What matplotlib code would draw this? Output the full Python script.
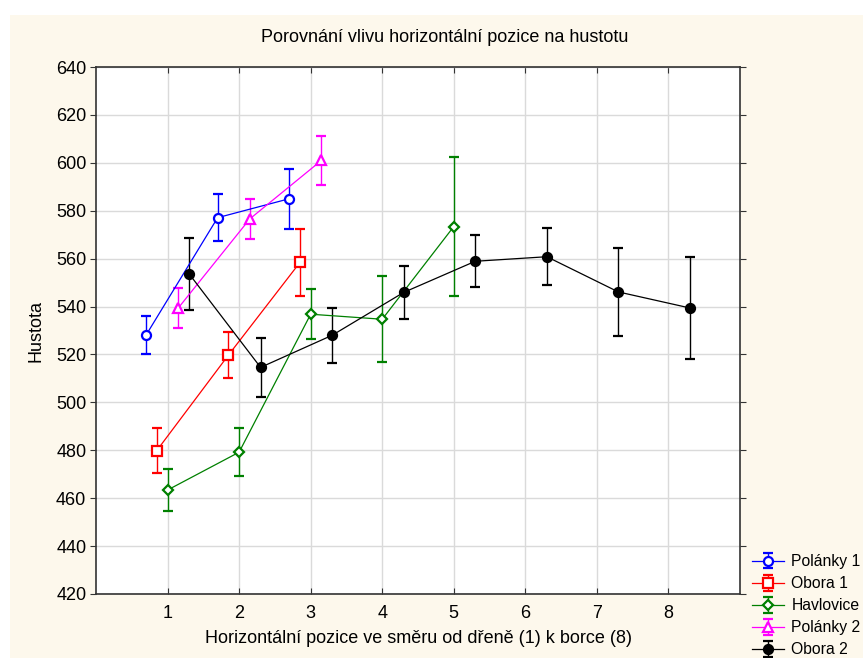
import matplotlib
matplotlib.use("Agg")
import matplotlib.pyplot as plt
from matplotlib.patches import Rectangle

plt.rcParams['font.family'] = ['Liberation Sans', 'DejaVu Sans']

# horizontal positions (1 = pith ... 8 = bark)
positions = [1, 2, 3, 4, 5, 6, 7, 8]

# means and half-width of error bar for each locality
polanky1_mean = [528.1, 577.1, 585.0]
polanky1_err = [8.0, 9.8, 12.6]
obora1_mean = [479.9, 519.7, 558.4]
obora1_err = [9.3, 9.7, 13.8]
havlovice_mean = [463.4, 479.2, 536.8, 534.7, 573.4]
havlovice_err = [8.7, 10.0, 10.4, 18.0, 29.2]
polanky2_mean = [539.4, 576.6, 601.0]
polanky2_err = [8.2, 8.5, 10.3]
obora2_mean = [553.7, 514.6, 528.0, 545.9, 558.9, 560.8, 546.1, 539.4]
obora2_err = [15.0, 12.2, 11.5, 11.0, 10.8, 11.9, 18.2, 21.2]

series = [
    ("Polánky 1", -0.3, polanky1_mean, polanky1_err, "#0000ff", "o", "white"),
    ("Obora 1", -0.15, obora1_mean, obora1_err, "#ff0000", "s", "white"),
    ("Havlovice", 0.0, havlovice_mean, havlovice_err, "#008000", "D", "white"),
    ("Polánky 2", 0.15, polanky2_mean, polanky2_err, "#ff00ff", "^", "white"),
    ("Obora 2", 0.3, obora2_mean, obora2_err, "#000000", "o", "#000000"),
]

fig = plt.figure(figsize=(8.63, 6.58), dpi=100, facecolor="white")
W, H = 863, 658
# beige panel behind everything, leaving thin white strip at top/left
fig.patches.append(Rectangle((10 / W, 0), 1, 1 - 15 / H, transform=fig.transFigure,
                             facecolor="#fdf8ec", edgecolor="none", zorder=-10))

ax = fig.add_axes([96 / W, 1 - 594 / H, (740 - 96) / W, (594 - 67) / H])
ax.set_facecolor("white")

for name, off, mean, err, col, mk, fill in series:
    xs = [p + off for p in positions[:len(mean)]]
    ms = 6.5 if mk != "D" else 5.5
    ax.errorbar(xs, mean, yerr=err, color=col, lw=0.9, elinewidth=1.0,
                capsize=3.5, capthick=1.0, marker=mk, markersize=ms,
                markerfacecolor=fill, markeredgecolor=col, markeredgewidth=1.6,
                label=name, zorder=3)

ax.set_xlim(0, 9)
ax.set_ylim(420, 640)
ax.set_xticks(positions)
ax.set_yticks(range(420, 641, 20))
ax.grid(True, color="#dadada", lw=1.0, zorder=0)
ax.set_axisbelow(True)
for s in ax.spines.values():
    s.set_color("#333333")
    s.set_linewidth(1.2)
ax.tick_params(axis="y", which="both", direction="out", length=4, labelsize=13,
               right=True, colors="#333333", labelcolor="black", pad=3)
ax.tick_params(axis="x", direction="in", length=4, labelsize=13, top=True,
               pad=8, colors="#333333", labelcolor="black")

ax.set_xlabel("Horizontální pozice ve směru od dřeně (1) k borce (8)", fontsize=13, labelpad=6)
ax.set_ylabel("Hustota", fontsize=13, labelpad=8)
fig.text(445 / W, 1 - 38 / H, "Porovnání vlivu horizontální pozice na hustotu",
         ha="center", va="center", fontsize=13)

leg = fig.legend(loc="upper left", bbox_to_anchor=(749 / W, 1 - 551 / H),
                 frameon=False, fontsize=11.3, handlelength=2.0, handletextpad=0.5,
                 labelspacing=0.45, borderpad=0.2, borderaxespad=0.0)

fig.savefig("out.png", dpi=100, facecolor=fig.get_facecolor())
